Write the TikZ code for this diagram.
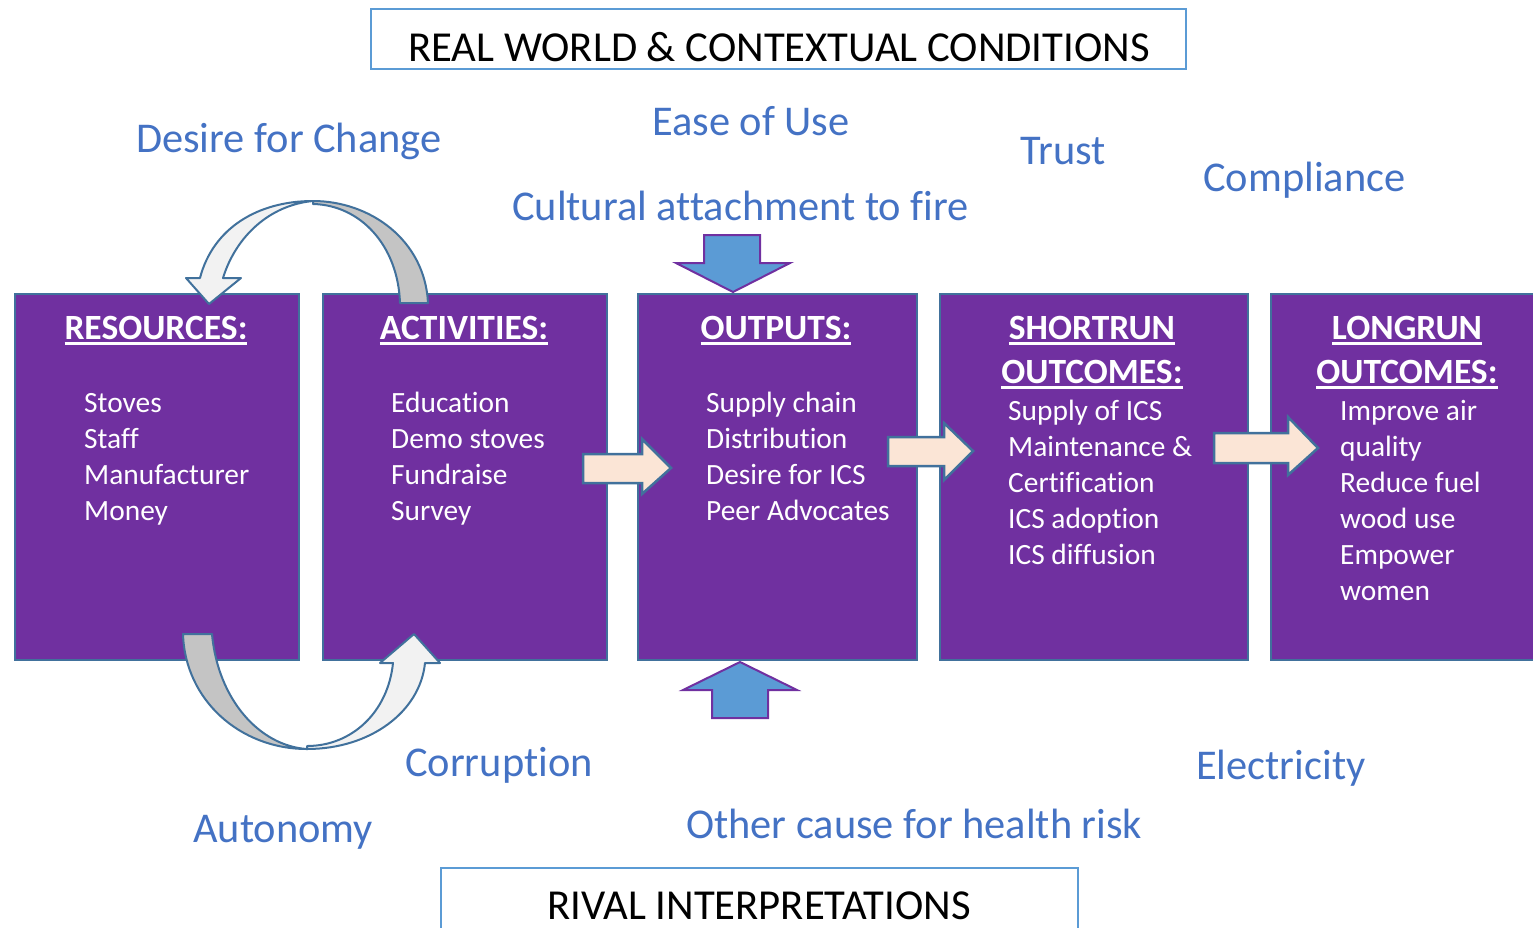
\documentclass[tikz,border=0pt]{standalone}
\usepackage{fontspec}
\setmainfont{Carlito}[Ligatures=NoCommon]
\definecolor{purp}{HTML}{7030A0}
\definecolor{boxline}{HTML}{41719C}
\definecolor{lblue}{HTML}{4472C4}
\definecolor{frameblue}{HTML}{5B9BD5}
\definecolor{arrblue}{HTML}{5B9BD5}
\definecolor{peach}{HTML}{FBE5D6}
\definecolor{greyband}{HTML}{C4C4C4}
\definecolor{whiteband}{HTML}{F2F2F2}
\newcommand\myul[1]{\setbox0\hbox{#1}\rlap{\rule[-5.5pt]{\wd0}{2.5pt}}\box0}
\begin{document}
\begin{tikzpicture}[x=1pt,y=-1pt,
  box/.style={draw=boxline, line width=2pt, fill=purp, minimum width=284pt, minimum height=366pt, anchor=north west, inner sep=0pt},
  title/.style={text=white, font=\fontsize{35.5}{44}\selectfont\bfseries, align=center, inner sep=0pt, anchor=base},
  body/.style={text=white, font=\fontsize{29.4}{36}\selectfont, align=left, inner sep=0pt, anchor=base west},
  lbl/.style={text=lblue, font=\fontsize{42.4}{48}\selectfont, inner sep=0pt, anchor=base west},
  frame/.style={draw=frameblue, line width=1.6pt},
  hdr/.style={font=\fontsize{42.7}{50}\selectfont, inner sep=0pt, anchor=base},
  curv/.style={draw=boxline, line width=2pt, line join=round},
  blk/.style={draw=purp, line width=2pt, fill=arrblue, line join=miter},
  rarr/.style={draw=boxline, line width=2.5pt, fill=peach, line join=miter}]
\useasboundingbox (0,0) rectangle (1533,927);
\clip (0,0) rectangle (1533,927);

% header frames
\draw[frame] (371,9) rectangle (1186,69);
\node[hdr] (hdrtop) at (779,61) {REAL WORLD \& CONTEXTUAL CONDITIONS};
\draw[frame] (441,940) -- (441,868) -- (1078,868) -- (1078,940);
\node[hdr] (hdrbot) at (759,919) {RIVAL INTERPRETATIONS};

% boxes
\node[box] (res) at (14,293) {};
\node[box] (act) at (322,293) {};
\node[box, minimum width=279pt] (out) at (637,293) {};
\node[box, minimum width=308pt] (sro) at (939,293) {};
\node[box, minimum width=300pt] (lro) at (1270,293) {};

% titles (base anchor = last line baseline)
\node[title] (t1) at (156,339) {\myul{RESOURCES:}};
\node[title] (t2) at (464,339) {\myul{ACTIVITIES:}};
\node[title] (t3) at (776,339) {\myul{OUTPUTS:}};
\node[title] (t4) at (1092,383) {\myul{SHORTRUN}\\\myul{OUTCOMES:}};
\node[title] (t5) at (1407,383) {\myul{LONGRUN}\\\myul{OUTCOMES:}};

% bodies (base anchor = last line baseline)
\node[body] (b1) at (84,520) {Stoves\\Staff\\Manufacturer\\Money};
\node[body] (b2) at (391,520) {Education\\Demo stoves\\Fundraise\\Survey};
\node[body] (b3) at (706,520) {Supply chain\\Distribution\\Desire for ICS\\Peer Advocates};
\node[body] (b4) at (1008,564) {Supply of ICS\\Maintenance \&\\Certification\\ICS adoption\\ICS diffusion};
\node[body] (b5) at (1340,600) {Improve air\\quality\\Reduce fuel\\wood use\\Empower\\women};

% labels
\node[lbl] (l1) at (136,152) {Desire for Change};
\node[lbl] (l2) at (652,135) {Ease of Use};
\node[lbl] (l3) at (512,220) {Cultural attachment to fire};
\node[lbl] (l4) at (1020,164) {Trust};
\node[lbl] (l5) at (1203,191) {Compliance};
\node[lbl] (l6) at (405,776) {Corruption};
\node[lbl] (l7) at (193,842) {Autonomy};
\node[lbl] (l8) at (686,838) {Other cause for health risk};
\node[lbl] (l9) at (1196,779) {Electricity};

% top curved arrow (activities -> resources)
\draw[curv, fill=greyband] (313,201) .. controls (370,201) and (425,240) .. (428,303)
  -- (400,303) .. controls (398,245) and (360,205) .. (313,204) -- cycle;
\draw[curv, fill=whiteband] (200,278) .. controls (213,228) and (258,201) .. (313,201)
  .. controls (270,205) and (236,236) .. (223,278)
  -- (241,278) -- (209,304) -- (186,278) -- cycle;

% bottom curved arrow (resources -> activities)
\draw[curv, fill=greyband] (183,634) .. controls (185,700) and (240,749) .. (307,749)
  .. controls (260,746) and (218,700) .. (212,634) -- cycle;
\draw[curv, fill=whiteband] (307,749) .. controls (370,749) and (420,712) .. (425,663)
  -- (440,663) -- (414,634) -- (380,663) -- (393,663)
  .. controls (388,712) and (352,746) .. (307,746) -- cycle;

% vertical block arrows
\draw[blk] (704,235) -- (760,235) -- (760,263) -- (790,263) -- (733,292) -- (676,263) -- (704,263) -- cycle;
\draw[blk] (712,718) -- (768,718) -- (768,690) -- (797,690) -- (740,662) -- (683,690) -- (712,690) -- cycle;

% right block arrows
\draw[rarr] (583,454) -- (642,454) -- (642,439) -- (671,468) -- (642,494) -- (642,483) -- (583,483) -- cycle;
\draw[rarr] (888,437) -- (944,437) -- (944,423) -- (973,451) -- (944,480) -- (944,466) -- (888,466) -- cycle;
\draw[rarr] (1214,433) -- (1288,433) -- (1288,417) -- (1318,448) -- (1288,475) -- (1288,463) -- (1214,463) -- cycle;
\end{tikzpicture}
\end{document}
